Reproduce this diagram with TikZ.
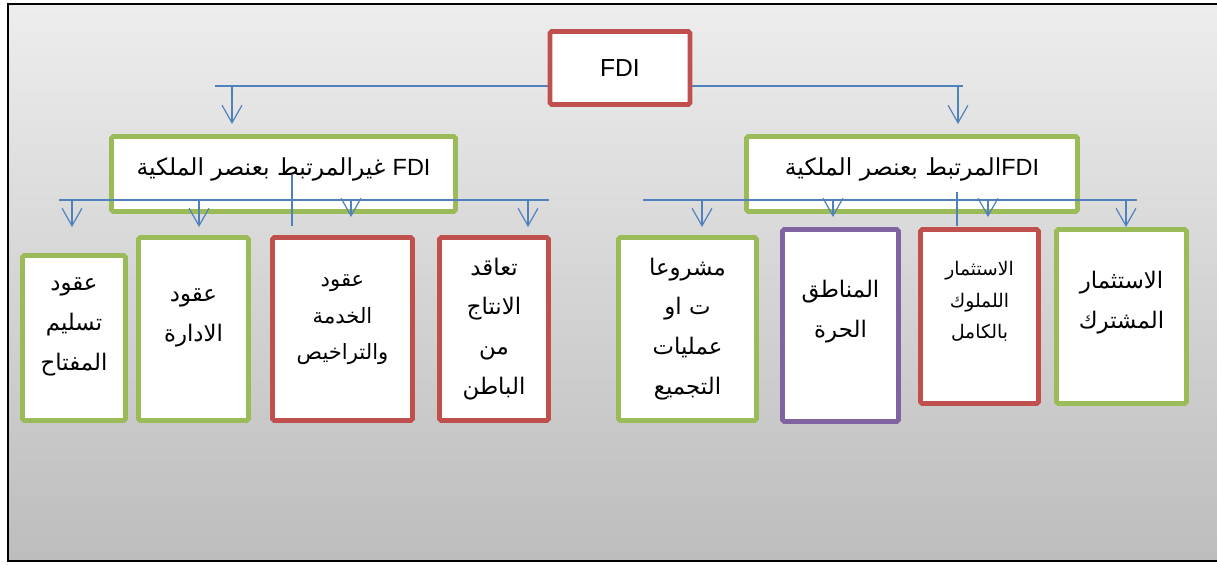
\documentclass[tikz,border=0pt]{standalone}
\usepackage{fontspec}
\setmainfont{Liberation Sans}
\newfontfamily\arabicfont[Script=Arabic]{DejaVu Sans}
\TeXXeTstate=1
\usetikzlibrary{arrows.meta}
\definecolor{fdired}{RGB}{192,80,77}
\definecolor{fdigreen}{RGB}{155,187,89}
\definecolor{fdipurple}{RGB}{128,100,162}
\definecolor{fdiblue}{RGB}{79,129,189}
\newcommand{\artxt}[1]{\beginR #1\endR}

\tikzset{
  box/.style={draw, line width=4pt, rounded corners=1.5pt, fill=white,
              inner sep=0pt, align=center},
  boxsize/.style 2 args={minimum width=#1*0.03cm, minimum height=#2*0.03cm},
  redbox/.style={box, draw=fdired},
  greenbox/.style={box, draw=fdigreen},
  purplebox/.style={box, draw=fdipurple},
  headtext/.style={font=\arabicfont\fontsize{20}{24}\selectfont, text depth=13pt},
  leaf/.style={font=\arabicfont\fontsize{19.5}{34}\selectfont},
  leafsmall/.style 2 args={font=\arabicfont\fontsize{#1}{#2}\selectfont},
  bus/.style={draw=fdiblue, line width=1.2pt},
  arr/.style={draw=fdiblue, line width=1pt,
              -{Straight Barb[length=15pt,width=17pt]}},
}

\begin{document}
\begin{tikzpicture}[x=0.03cm, y=-0.03cm]
  \useasboundingbox (0,0) rectangle (1217,564);
  % background and frame
  \shade[top color=black!7, bottom color=black!26] (8,4) rectangle (1217,561);
  \draw[line width=2pt] (1230,4) -- (8,4) -- (8,561) -- (1230,561);

  % top level
  \coordinate (topbusL) at (215,86);
  \coordinate (topbusR) at (963,86);
  \draw[bus, line width=1.6pt] (topbusL) -- (topbusR);
  \node[redbox, boxsize={140}{73}, font=\fontsize{21}{24}\selectfont] (fdi) at (620,68) {FDI};

  % second level
  \node[greenbox, boxsize={344}{75}, headtext] (nonown) at (283.5,174)
       {\artxt{\beginL{\normalfont FDI}\endL{} غيرالمرتبط بعنصر الملكية}};
  \node[greenbox, boxsize={331}{75}, headtext] (own) at (912,174)
       {\artxt{\beginL{\normalfont FDI}\endL{}المرتبط بعنصر الملكية}};
  \coordinate (arrL) at (232,86);
  \coordinate (arrR) at (958,86);
  \draw[arr] (arrL) -- ++(0,38);
  \draw[arr] (arrR) -- ++(0,38);

  % third level, non ownership
  \node[greenbox, boxsize={103}{165}, leaf, text depth=24pt] (turnkey) at (74,338)
       {\artxt{عقود}\\\artxt{تسليم}\\\artxt{المفتاح}};
  \node[greenbox, boxsize={110}{183}, leaf, text depth=24pt] (mgmt) at (193.5,329)
       {\artxt{عقود}\\\artxt{الادارة}};
  \node[redbox, boxsize={140}{183}, leafsmall={18}{31}, text depth=20pt] (service) at (342.5,329)
       {\artxt{عقود}\\\artxt{الخدمة}\\\artxt{والتراخيص}};
  \node[redbox, boxsize={109}{183}, leaf] (subcon) at (494,329)
       {\artxt{تعاقد}\\\artxt{الانتاج}\\\artxt{من}\\\artxt{الباطن}};

  % third level, ownership
  \node[greenbox, boxsize={138}{183}, leaf] (assembly) at (687.5,329)
       {\artxt{مشروعا}\\\artxt{ت او}\\\artxt{عمليات}\\\artxt{التجميع}};
  \node[purplebox, boxsize={116}{192}, leaf, text depth=29pt] (freezone) at (840.5,325.5)
       {\artxt{المناطق}\\\artxt{الحرة}};
  \node[redbox, boxsize={118}{174}, leafsmall={16}{27}, text depth=28pt] (fullown) at (979.5,316.5)
       {\artxt{الاستثمار}\\\artxt{اللملوك}\\\artxt{بالكامل}};
  \node[greenbox, boxsize={130}{174}, leaf, text depth=29pt] (joint) at (1121.5,316.5)
       {\artxt{الاستثمار}\\\artxt{المشترك}};

  % buses under the second level
  \coordinate (busL) at (59,200);
  \coordinate (busR) at (643,200);
  \draw[bus] (busL) -- ++(490,0);
  \draw[bus] (busR) -- ++(494,0);
  \foreach \x/\l in {72/27, 199/27, 351/17, 528/27, 702/27, 833/17, 988/17, 1126/27}
    \draw[arr] (\x,200) -- ++(0,\l);
  \draw[bus] ([shift={(8.5,1)}]nonown.center) -- ++(0,51);
  \draw[bus] ([shift={(45,18)}]own.center) -- ++(0,34);
\end{tikzpicture}
\end{document}
